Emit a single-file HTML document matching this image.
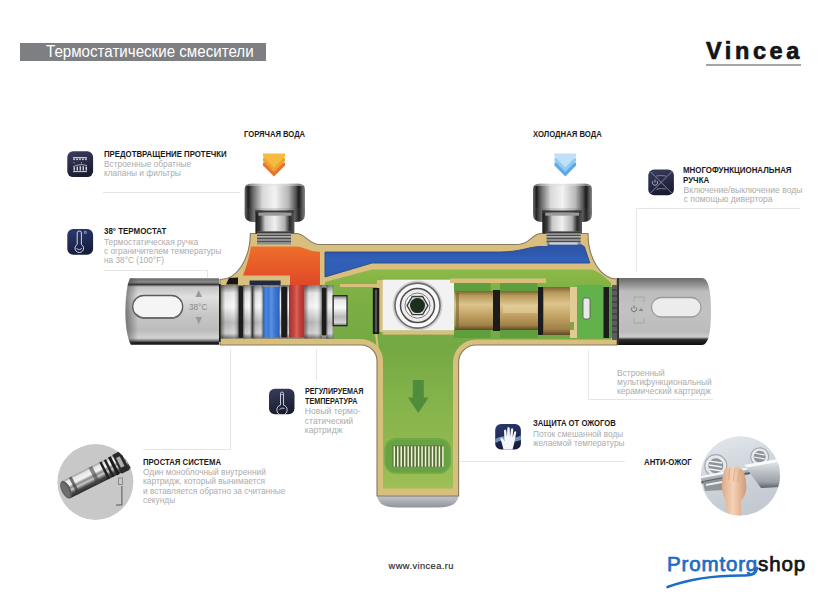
<!DOCTYPE html>
<html><head><meta charset="utf-8">
<style>
html,body{margin:0;padding:0;background:#fff;}
body{width:840px;height:605px;position:relative;overflow:hidden;font-family:"Liberation Sans",sans-serif;}
.a{position:absolute;white-space:nowrap;}
.t{position:absolute;white-space:nowrap;font-weight:bold;color:#1b1b1b;font-size:8.6px;line-height:9.4px;transform-origin:0 0;transform:scaleX(0.9);}
.s{position:absolute;white-space:nowrap;color:#acacac;font-size:8.6px;line-height:9.4px;transform-origin:0 0;transform:scaleX(0.97);}
.ln{position:absolute;background:#e6e6e6;}
.ic{position:absolute;width:26px;height:26px;border-radius:6px;background:linear-gradient(160deg,#3b4366,#1c2038);}
</style></head>
<body>
<div class="a" id="hbar" style="left:20px;top:43px;width:246px;height:18px;background:#7e7f83;"></div>
<div class="a" id="htxt" style="left:46px;top:41px;font-size:16px;line-height:22px;color:#fff;transform-origin:0 0;transform:scaleX(0.945);">Термостатические смесители</div>
<div class="a" id="vin" style="left:706px;top:36.5px;font-size:23.5px;line-height:28px;font-weight:bold;color:#141414;letter-spacing:3.6px;-webkit-text-stroke:0.7px #141414;">Vincea</div>
<div class="a" style="left:706px;top:64px;width:95px;height:2px;background:#a5a5a5;"></div>

<div class="t" id="hot" style="left:244px;top:129.6px;transform:scaleX(0.888)">ГОРЯЧАЯ ВОДА</div>
<div class="t" id="cold" style="left:532.5px;top:130px;transform:scaleX(0.899)">ХОЛОДНАЯ ВОДА</div>

<!-- A -->
<div class="t" id="tA" style="left:103.5px;top:150px;transform:scaleX(0.909)">ПРЕДОТВРАЩЕНИЕ ПРОТЕЧКИ</div>
<div class="s" id="sA" style="left:104px;top:160px;">Встроенные обратные<br>клапаны и фильтры</div>
<div class="ln" style="left:103px;top:192px;width:137px;height:1px;"></div>
<!-- B -->
<div class="t" id="tB" style="left:104px;top:227.4px;transform:scaleX(0.924)">38° ТЕРМОСТАТ</div>
<div class="s" id="sB" style="left:104px;top:237.6px;transform:scaleX(0.963)">Термостатическая ручка<br>с ограничителем температуры<br>на 38°C (100°F)</div>
<div class="ln" style="left:104px;top:270px;width:104px;height:1px;"></div>
<div class="ln" style="left:207px;top:270px;width:1px;height:8px;"></div>
<!-- C -->
<div class="t" id="tC" style="left:683.4px;top:166.4px;transform:scaleX(0.922)">МНОГОФУНКЦИОНАЛЬНАЯ<br>РУЧКА</div>
<div class="s" id="sC" style="left:683.6px;top:186px;transform:scaleX(1.0)">Включение/выключение воды<br>с помощью дивертора</div>
<div class="ln" style="left:636px;top:208px;width:164px;height:1px;"></div>
<div class="ln" style="left:636px;top:208px;width:1px;height:64px;"></div>
<!-- D -->
<div class="t" id="tD" style="left:304.5px;top:387.4px;transform:scaleX(0.836)">РЕГУЛИРУЕМАЯ<br>ТЕМПЕРАТУРА</div>
<div class="s" id="sD" style="left:304.8px;top:407.2px;transform:scaleX(1.0)">Новый термо-<br>статический<br>картридж</div>
<div class="ln" style="left:316px;top:349px;width:1px;height:31px;"></div>
<!-- E -->
<div class="t" id="tE" style="left:532.8px;top:419.4px;transform:scaleX(0.894)">ЗАЩИТА ОТ ОЖОГОВ</div>
<div class="s" id="sE" style="left:533px;top:429.6px;transform:scaleX(0.96)">Поток смешанной воды<br>желаемой температуры</div>
<div class="ln" style="left:460px;top:461px;width:165px;height:1px;"></div>
<!-- F -->
<div class="t" id="tF" style="left:644px;top:457.5px;transform:scaleX(0.91)">АНТИ-ОЖОГ</div>
<!-- G -->
<div class="t" id="tG" style="left:143px;top:457.6px;">ПРОСТАЯ СИСТЕМА</div>
<div class="s" id="sG" style="left:143px;top:468px;">Один моноблочный внутренний<br>картридж, который вынимается<br>и вставляется обратно за считанные<br>секунды</div>
<div class="ln" style="left:143px;top:449px;width:88px;height:1px;"></div>
<div class="ln" style="left:230px;top:349px;width:1px;height:100px;"></div>
<!-- H -->
<div class="s" id="sH" style="left:617px;top:368.6px;transform:scaleX(0.98)">Встроенный<br>мультифункциональный<br>керамический картридж</div>
<div class="ln" style="left:588px;top:350px;width:1px;height:49px;"></div>
<div class="ln" style="left:588px;top:399px;width:125px;height:1px;"></div>

<div class="a" id="www" style="left:388.5px;top:559.6px;font-size:9.3px;line-height:12px;color:#262626;letter-spacing:0.42px;-webkit-text-stroke:0.15px #262626;">www.vincea.ru</div>
<div class="a" id="pts" style="left:667px;top:551px;font-size:20.5px;line-height:26px;font-weight:normal;color:#1c6dc6;-webkit-text-stroke:0.75px #1c6dc6;letter-spacing:0.85px;">Promtorg<span style="color:#151515;-webkit-text-stroke:0.75px #151515;">shop</span></div>

<svg class="a" style="left:0;top:0" width="840" height="605" viewBox="0 0 840 605">
<defs>
 <linearGradient id="chv" x1="0" y1="0" x2="0" y2="1">
  <stop offset="0" stop-color="#6a6a6a"/><stop offset="0.06" stop-color="#8a8a8a"/><stop offset="0.095" stop-color="#3a3a3a"/><stop offset="0.13" stop-color="#c4c4c4"/>
  <stop offset="0.28" stop-color="#e0e0e0"/><stop offset="0.55" stop-color="#c6c6c6"/><stop offset="0.78" stop-color="#bcbcbc"/>
  <stop offset="0.9" stop-color="#d2d2d2"/><stop offset="0.94" stop-color="#777"/><stop offset="0.965" stop-color="#222"/><stop offset="1" stop-color="#151515"/>
 </linearGradient>
 <linearGradient id="lend" x1="0" y1="0" x2="1" y2="0">
  <stop offset="0" stop-color="#333" stop-opacity="0.55"/><stop offset="1" stop-color="#333" stop-opacity="0"/>
 </linearGradient>
 <linearGradient id="chv2" x1="0" y1="0" x2="0" y2="1">
  <stop offset="0" stop-color="#6a6a6a"/><stop offset="0.12" stop-color="#9a9a9a"/><stop offset="0.2" stop-color="#bdbdbd"/>
  <stop offset="0.5" stop-color="#c2c2c2"/><stop offset="0.8" stop-color="#bcbcbc"/>
  <stop offset="0.88" stop-color="#cdcdcd"/><stop offset="0.92" stop-color="#2a2a2a"/><stop offset="1" stop-color="#0e0e0e"/>
 </linearGradient>
 <linearGradient id="chn" x1="0" y1="0" x2="1" y2="0">
  <stop offset="0" stop-color="#6e6e6e"/><stop offset="0.06" stop-color="#1e1e1e"/><stop offset="0.14" stop-color="#6a6a6a"/>
  <stop offset="0.3" stop-color="#d9d9d9"/><stop offset="0.5" stop-color="#f3f3f3"/><stop offset="0.72" stop-color="#b8b8b8"/>
  <stop offset="0.84" stop-color="#5a5a5a"/><stop offset="0.9" stop-color="#1a1a1a"/><stop offset="1" stop-color="#8a8a8a"/>
 </linearGradient>
 <linearGradient id="chn2" x1="0" y1="0" x2="1" y2="0">
  <stop offset="0" stop-color="#1a1a1a"/><stop offset="0.12" stop-color="#3a3a3a"/><stop offset="0.25" stop-color="#c8c8c8"/>
  <stop offset="0.5" stop-color="#f0f0f0"/><stop offset="0.75" stop-color="#b0b0b0"/><stop offset="0.88" stop-color="#2a2a2a"/><stop offset="1" stop-color="#5a5a5a"/>
 </linearGradient>
 <linearGradient id="segsh" x1="0" y1="0" x2="1" y2="0">
  <stop offset="0" stop-color="#222" stop-opacity="0.55"/><stop offset="0.25" stop-color="#222" stop-opacity="0.05"/><stop offset="0.7" stop-color="#fff" stop-opacity="0.1"/><stop offset="1" stop-color="#222" stop-opacity="0.45"/>
 </linearGradient>
 <linearGradient id="bluer" x1="0" y1="0" x2="1" y2="0">
  <stop offset="0" stop-color="#2a5fb8"/><stop offset="0.2" stop-color="#4a88dc"/><stop offset="0.35" stop-color="#3a78d2"/><stop offset="0.5" stop-color="#5a94e0"/><stop offset="0.7" stop-color="#3c7ad4"/><stop offset="1" stop-color="#2a62bd"/>
 </linearGradient>
 <linearGradient id="redr" x1="0" y1="0" x2="1" y2="0">
  <stop offset="0" stop-color="#a8302a"/><stop offset="0.3" stop-color="#c8443a"/><stop offset="0.5" stop-color="#d4645a"/><stop offset="0.7" stop-color="#c4403a"/><stop offset="1" stop-color="#a83028"/>
 </linearGradient>
 <linearGradient id="chc" x1="0" y1="0" x2="0" y2="1">
  <stop offset="0" stop-color="#777"/><stop offset="0.15" stop-color="#e8e8e8"/><stop offset="0.4" stop-color="#fafafa"/>
  <stop offset="0.7" stop-color="#b9b9b9"/><stop offset="0.9" stop-color="#d5d5d5"/><stop offset="1" stop-color="#6a6a6a"/>
 </linearGradient>
 <linearGradient id="brass" x1="0" y1="0" x2="0" y2="1">
  <stop offset="0" stop-color="#7d6234"/><stop offset="0.12" stop-color="#b99a5c"/><stop offset="0.35" stop-color="#dcc48c"/>
  <stop offset="0.6" stop-color="#c4a466"/><stop offset="0.88" stop-color="#9f8148"/><stop offset="1" stop-color="#5e4822"/>
 </linearGradient>
 <linearGradient id="org" x1="0" y1="0" x2="0" y2="1">
  <stop offset="0" stop-color="#ef6f2b"/><stop offset="1" stop-color="#de4627"/>
 </linearGradient>
 <linearGradient id="grn" gradientUnits="userSpaceOnUse" x1="0" y1="269" x2="0" y2="489">
  <stop offset="0" stop-color="#8cba48"/><stop offset="0.1" stop-color="#7fb045"/><stop offset="0.35" stop-color="#74a843"/><stop offset="0.6" stop-color="#85b34b"/><stop offset="0.9" stop-color="#95bc52"/><stop offset="1" stop-color="#9ec057"/>
 </linearGradient>
 <linearGradient id="grs" x1="0" y1="0" x2="0" y2="1">
  <stop offset="0" stop-color="#6ea640"/><stop offset="0.35" stop-color="#86b44c"/><stop offset="0.8" stop-color="#92ba50"/><stop offset="1" stop-color="#9cbf56"/>
 </linearGradient>
 <linearGradient id="blu" gradientUnits="userSpaceOnUse" x1="0" y1="244" x2="0" y2="277">
  <stop offset="0" stop-color="#2d53a6"/><stop offset="0.3" stop-color="#2f58ae"/><stop offset="0.45" stop-color="#3260b8"/><stop offset="1" stop-color="#2f5cb4"/>
 </linearGradient>
 <linearGradient id="hot" x1="0" y1="0" x2="0" y2="1">
  <stop offset="0" stop-color="#f3b236"/><stop offset="1" stop-color="#e46a2a"/>
 </linearGradient>
 <linearGradient id="cld" x1="0" y1="0" x2="0" y2="1">
  <stop offset="0" stop-color="#b5dcf5"/><stop offset="1" stop-color="#4f9de0"/>
 </linearGradient>
</defs>

<!-- arrows -->
<g id="harrow"><polygon points="263.0,162.6 285.0,162.6 285.0,165.6 274.0,176.6 263.0,165.6" fill="#e6762b"/><polygon points="263.0,158.1 285.0,158.1 285.0,161.1 274.0,172.1 263.0,161.1" fill="#f0a332"/><polygon points="263.0,153.6 285.0,153.6 285.0,156.6 274.0,167.6 263.0,156.6" fill="#f4bb3c"/></g>
<g id="carrow"><polygon points="554.5,162.6 576.1,162.6 576.1,165.6 565.3,176.4 554.5,165.6" fill="#5ea8e4"/><polygon points="554.5,158.1 576.1,158.1 576.1,161.1 565.3,171.9 554.5,161.1" fill="#93c9f0"/><polygon points="554.5,153.6 576.1,153.6 576.1,156.6 565.3,167.4 554.5,156.6" fill="#bfe0f6"/></g>

<!-- stem bottom chrome cap -->
<defs><linearGradient id="capg" x1="0" y1="0" x2="0" y2="1"><stop offset="0" stop-color="#c9cdd2"/><stop offset="0.5" stop-color="#b8bcc2"/><stop offset="1" stop-color="#8f949a"/></linearGradient></defs>
<path d="M377 490 L458.6 490 L458.6 495 Q458 507.5 438 507.5 L397 507.5 Q377.6 507.5 377 495 Z" fill="url(#capg)"/>

<!-- body silhouette -->
<path id="body" d="M220 279.5 A30 46 0 0 0 250.3 233.5 L296 233.5 C306 233.5 308 244.5 320 244.5 L518 244.5 C530 244.5 532 233.5 541 233.5 L588 233.5 A29 45.5 0 0 0 617 279 L617 345 L476 345 A17.5 17.5 0 0 0 458.6 362.5 L458.6 496 L377 496 L377 361 A16 16 0 0 0 361 345 L220 345 Z" fill="#d8bf7e" stroke="#857a62" stroke-width="1.1"/>

<!-- green interior -->
<path d="M325 282 L372 269.5 L592 269.5 C600 272 606 278 611 283 L611 339.5 L476 339.5 A23 23 0 0 0 453 362.5 L453 488.6 L383 488.6 L383 361 A22 22 0 0 0 361 339 L325 339 Z" fill="url(#grn)"/>
<path d="M376 333 L378.5 356" stroke="#d8bf7e" stroke-width="2"/>
<!-- orange -->
<path d="M251 246.5 L296 246.5 C304 246.5 308 251.7 320 251.7 L320 287 L290 287 L290 275.5 L243 275.5 C247 265 249.5 255 251 246.5 Z" fill="url(#org)"/>
<!-- blue -->
<path d="M325 252 L500 252 C520 252 530 246.5 540 246.5 L548 246.5 L548 244.3 L580.5 244.3 L584.4 246.7 L589.8 263 L372 263 L325 277 Z" fill="url(#blu)" stroke="#28488f" stroke-width="0.9"/>

<!-- nuts -->
<g id="nutL"><path d="M244.6 189 Q244.6 183.7 251.6 183.7 L298 183.7 Q305 183.7 305 189 L305 214 Q305 222 296 222 L253.6 222 Q244.6 222 244.6 214 Z" fill="url(#chn)"/><path d="M244.6 208 L305 208 L305 214 Q305 222 296 222 L253.6 222 Q244.6 222 244.6 214 Z" fill="#5a5a5a" opacity="0.18"/><rect x="246.6" y="184" width="56.400000000000006" height="2" fill="#e0e0e0" opacity="0.5"/><rect x="255.4" y="210.5" width="38.99999999999997" height="23" fill="url(#chn2)"/><rect x="255.4" y="210.5" width="38.99999999999997" height="2.2" fill="#3a3a3a"/><rect x="258.4" y="212.7" width="32.99999999999997" height="3" fill="#9a9a9a"/><rect x="257" y="231.5" width="34" height="13" fill="#8e8e8e"/><rect x="257" y="231.5" width="34" height="1.6" fill="#3a3a3a"/><rect x="257" y="235" width="34" height="1" fill="#4e4e4e"/><rect x="257" y="238" width="34" height="1" fill="#4e4e4e"/><rect x="257" y="241" width="34" height="1" fill="#4e4e4e"/><rect x="257" y="236.2" width="34" height="0.8" fill="#c8c8c8" opacity="0.7"/></g>
<g id="nutR"><path d="M533 189 Q533 183.7 540 183.7 L585 183.7 Q592 183.7 592 189 L592 214 Q592 222 583 222 L542 222 Q533 222 533 214 Z" fill="url(#chn)"/><path d="M533 208 L592 208 L592 214 Q592 222 583 222 L542 222 Q533 222 533 214 Z" fill="#5a5a5a" opacity="0.18"/><rect x="535" y="184" width="55" height="2" fill="#e0e0e0" opacity="0.5"/><rect x="542.3" y="210.5" width="39.700000000000045" height="23" fill="url(#chn2)"/><rect x="542.3" y="210.5" width="39.700000000000045" height="2.2" fill="#3a3a3a"/><rect x="545.3" y="212.7" width="33.700000000000045" height="3" fill="#9a9a9a"/><rect x="546.6" y="231.5" width="34.0" height="13" fill="#8e8e8e"/><rect x="546.6" y="231.5" width="34.0" height="1.6" fill="#3a3a3a"/><rect x="546.6" y="235" width="34.0" height="1" fill="#4e4e4e"/><rect x="546.6" y="238" width="34.0" height="1" fill="#4e4e4e"/><rect x="546.6" y="241" width="34.0" height="1" fill="#4e4e4e"/><rect x="546.6" y="236.2" width="34.0" height="0.8" fill="#c8c8c8" opacity="0.7"/><rect x="549.6" y="242.5" width="28.0" height="2" fill="#c9d6ef"/></g>

<!-- left cartridge -->
<rect x="249.6" y="280.5" width="31" height="5.5" fill="#1f2a44"/>
<polygon points="229,278 238,277.5 238,284.5 226,284.5" fill="#161616"/>
<rect x="220.7" y="285" width="112.5" height="53.6" fill="url(#chc)"/>
<rect x="220.7" y="285" width="17.7" height="53.6" fill="url(#segsh)"/><rect x="243.1" y="285" width="8.4" height="53.6" fill="url(#segsh)"/><rect x="253.3" y="285" width="9.5" height="53.6" fill="url(#segsh)"/><rect x="279.5" y="285" width="1.7" height="53.6" fill="url(#segsh)"/><rect x="287.2" y="285" width="1.8" height="53.6" fill="url(#segsh)"/><rect x="304.5" y="285" width="17.2" height="53.6" fill="url(#segsh)"/><rect x="326.5" y="285" width="6.7" height="53.6" fill="url(#segsh)"/>
<rect x="215.4" y="284" width="5.3" height="57.8" fill="#1a1a1a"/>
<rect x="238.4" y="286" width="4.7" height="52" rx="1.5" fill="#1c1c1c"/>
<rect x="251.5" y="286" width="1.8" height="52" fill="#3a3a3a"/>
<rect x="262.8" y="287" width="16.7" height="50.5" fill="url(#bluer)"/>
<rect x="281.2" y="286.5" width="6" height="51" rx="1.5" fill="#1c1c1c"/>
<rect x="289" y="285" width="15.5" height="52.5" fill="url(#redr)"/>
<rect x="321.7" y="287.5" width="4.8" height="48" rx="1.5" fill="#1c1c1c"/>
<rect x="333.2" y="295.7" width="13.8" height="30" fill="url(#chc)" stroke="#222" stroke-width="1.2"/>
<rect x="340" y="284" width="37" height="3" fill="#d8bf7e"/>

<!-- valve block -->
<rect x="377" y="280" width="6" height="52" fill="#d8bf7e"/>
<rect x="372.8" y="288" width="6.5" height="46" fill="#1c1c1c"/>
<rect x="375" y="290" width="2" height="42" fill="#555"/>
<rect x="382.7" y="279.7" width="71.8" height="50.9" fill="#f2f2f2"/>
<rect x="382.7" y="330.6" width="71.8" height="4" fill="#d8bf7e"/>
<circle cx="417.5" cy="305.6" r="25" fill="#cfcfcf"/>
<circle cx="417.5" cy="305.6" r="22.5" fill="#f8f8f8" stroke="#6a6a6a" stroke-width="1.6"/>
<circle cx="417.5" cy="305.6" r="17" fill="#ececec" stroke="#4a4a4a" stroke-width="1.5"/>
<circle cx="417.5" cy="305.6" r="12.5" fill="#fbfbfb" stroke="#777" stroke-width="1"/>
<polygon points="428,305.6 422.7,314.7 412.3,314.7 407,305.6 412.3,296.5 422.7,296.5" fill="#dadada" stroke="#3a3a3a" stroke-width="1.3"/>
<circle cx="417.5" cy="305.6" r="7.5" fill="#1c2e1f"/>

<!-- right cartridge -->
<rect x="450" y="278.5" width="96" height="4.5" fill="#d8bf7e"/>
<rect x="454" y="283" width="36.6" height="8" fill="#5e9e3c"/>
<rect x="500" y="283" width="37.5" height="8" fill="#5e9e3c"/>
<rect x="454" y="330" width="36.6" height="8" fill="#5e9e3c"/>
<rect x="500" y="330" width="37.5" height="8" fill="#5e9e3c"/>
<rect x="454.5" y="291" width="38.5" height="39" fill="url(#brass)"/>
<rect x="456" y="293" width="3" height="35" fill="#6e5628" opacity="0.5"/>
<rect x="493" y="290" width="7" height="41" fill="#1c1c1c"/>
<rect x="500" y="291" width="38" height="39" fill="url(#brass)"/>
<rect x="503" y="305" width="34" height="8" fill="#e6d39e" opacity="0.6"/>
<rect x="538" y="287" width="5.5" height="48" fill="#1c1c1c"/>
<rect x="543.5" y="287" width="27" height="48" fill="url(#brass)"/>
<path d="M570 287 L578 287 L578 338 L570 338 L570 330 L574 330 L574 322 L570 322 Z" fill="#e2cb95"/>
<rect x="577" y="285" width="26.5" height="53" fill="#62b24c"/>
<rect x="583" y="298" width="7" height="21" rx="2" fill="#e8e8e8" stroke="#555" stroke-width="0.8"/>
<rect x="603.5" y="287" width="5.5" height="51" fill="#1c1c1c"/>
<rect x="609" y="287" width="3" height="51" fill="#4e9a44"/>
<rect x="612" y="285" width="5" height="55" fill="#5c5c5c"/>
<g stroke="#2a2a2a" stroke-width="0.8"><line x1="612" y1="290" x2="617" y2="290"/><line x1="612" y1="296" x2="617" y2="296"/><line x1="612" y1="302" x2="617" y2="302"/><line x1="612" y1="308" x2="617" y2="308"/><line x1="612" y1="314" x2="617" y2="314"/><line x1="612" y1="320" x2="617" y2="320"/><line x1="612" y1="326" x2="617" y2="326"/><line x1="612" y1="332" x2="617" y2="332"/></g>

<!-- handles -->
<path id="hL" d="M219 278.2 L219 344.8 L131 344.8 Q125.2 335 125.2 311.5 Q125.2 288 130 278.2 Z" fill="url(#chv)"/>
<path d="M219 278.2 L219 344.5 L136 344.5 Q124 344.5 124 311.3 Q124 278.2 136 278.2 Z" fill="none"/>
<path d="M138 278.2 L130 278.2 Q125.5 290 125.5 311.3 Q125.5 333 130.5 344.5 L138 344.5 Z" fill="url(#lend)"/>
<rect x="132.7" y="295.5" width="50" height="22.5" rx="11.2" fill="#f5f5f5" stroke="#5a5a5a" stroke-width="1.3"/>
<path d="M136 314 Q140 318 145 318 L171 318 Q180 318 182 310" stroke="#6a6a6a" stroke-width="1.4" fill="none"/>
<text x="189" y="310" font-family="Liberation Sans" font-size="8.2" fill="#8a8a8a">38°C</text>
<polygon points="198.7,290 195.5,297 202,297" fill="#9a9a9a"/>
<polygon points="198.7,324.5 195.5,317 202,317" fill="#9a9a9a"/>

<path id="hR" d="M617 278 L702 278 Q711 278 711 311.5 Q711 345 702 345 L617 345 Z" fill="url(#chv2)"/>
<rect x="617" y="278" width="2" height="67" fill="#333"/>
<rect x="651.5" y="297.5" width="49.5" height="19.5" rx="9.7" fill="#ececec" stroke="#9a9a9a" stroke-width="1.3"/>
<path d="M632 307.5 A2.6 2.6 0 1 0 636 307.5" stroke="#666" stroke-width="0.9" fill="none"/><line x1="634" y1="305.5" x2="634" y2="308.5" stroke="#666" stroke-width="0.9"/>
<path d="M634 302 L634 297 L644 297 L644 302 M634 318 L634 323 L644 323 L644 318" stroke="#999" stroke-width="0.6" fill="none"/>
<polygon points="641,308 638.5,311 643.5,311" fill="#888"/>

<!-- stem arrow + filter -->
<polygon points="412.8,380 423.8,380 423.8,397.5 428.5,397.5 418.3,413 408,397.5 412.8,397.5" fill="#4f8c3c"/>
<rect x="384.3" y="438" width="66.7" height="35.8" rx="12" fill="#6fa846"/>
<rect x="386" y="440" width="63" height="32" rx="10" fill="#68a242"/>
<rect x="392.5" y="445.5" width="51" height="21.5" fill="#56703a"/>
<g stroke="#f1f6d6" stroke-width="1.5"><line x1="394.30" y1="446.2" x2="394.30" y2="466.7"/><line x1="397.77" y1="446.2" x2="397.77" y2="466.7"/><line x1="401.24" y1="446.2" x2="401.24" y2="466.7"/><line x1="404.71" y1="446.2" x2="404.71" y2="466.7"/><line x1="408.18" y1="446.2" x2="408.18" y2="466.7"/><line x1="411.65" y1="446.2" x2="411.65" y2="466.7"/><line x1="415.12" y1="446.2" x2="415.12" y2="466.7"/><line x1="418.59" y1="446.2" x2="418.59" y2="466.7"/><line x1="422.06" y1="446.2" x2="422.06" y2="466.7"/><line x1="425.53" y1="446.2" x2="425.53" y2="466.7"/><line x1="429.00" y1="446.2" x2="429.00" y2="466.7"/><line x1="432.47" y1="446.2" x2="432.47" y2="466.7"/><line x1="435.94" y1="446.2" x2="435.94" y2="466.7"/><line x1="439.41" y1="446.2" x2="439.41" y2="466.7"/><line x1="442.88" y1="446.2" x2="442.88" y2="466.7"/></g>

<!-- icons -->
<defs>
 <linearGradient id="icg" x1="0" y1="0" x2="0.3" y2="1">
  <stop offset="0" stop-color="#393e5e"/><stop offset="1" stop-color="#1a1d31"/>
 </linearGradient>
 <linearGradient id="icb" x1="0" y1="0" x2="0.3" y2="1">
  <stop offset="0" stop-color="#2b3a72"/><stop offset="1" stop-color="#171d3c"/>
 </linearGradient>
 <clipPath id="cpR"><circle cx="740.4" cy="475.8" r="39.6"/></clipPath>
 <clipPath id="cpL"><circle cx="95.4" cy="482" r="38"/></clipPath>
 <linearGradient id="hand" x1="0" y1="0" x2="1" y2="0">
  <stop offset="0" stop-color="#dcab8a"/><stop offset="0.45" stop-color="#f6d2b6"/><stop offset="1" stop-color="#d09a78"/>
 </linearGradient>
</defs>
<g id="icA">
 <rect x="67.3" y="151.3" width="25.8" height="25.8" rx="5.8" fill="url(#icg)"/>
 <g fill="#e4e5ee"><rect x="73" y="157.2" width="14" height="1.1"/>
 <circle cx="74" cy="159.3" r="0.85"/><circle cx="77" cy="159.3" r="0.85"/><circle cx="80" cy="159.3" r="0.85"/><circle cx="83" cy="159.3" r="0.85"/><circle cx="86" cy="159.3" r="0.85"/>
 <circle cx="74" cy="162.8" r="0.5"/><circle cx="81.5" cy="162.8" r="0.5"/>
 <rect x="73" y="171.2" width="14" height="0.9"/>
 <rect x="73.6" y="167.2" width="1.3" height="3.4"/><rect x="76.6" y="166.6" width="1.3" height="4"/><rect x="79.6" y="166.2" width="1.3" height="4.4"/><rect x="82.6" y="166.2" width="1.3" height="4.4"/><rect x="85.6" y="166.6" width="1.3" height="4"/>
 </g>
 <path d="M73 166.8 Q80 163.2 87 165.6" stroke="#e4e5ee" stroke-width="0.7" fill="none"/>
</g>
<g id="icB">
 <rect x="67.3" y="229" width="25.8" height="25.8" rx="5.8" fill="url(#icb)"/>
 <path d="M77.2 244.5 L77.2 233 Q77.2 231 79.3 231 Q81.4 231 81.4 233 L81.4 244.5 A4.3 4.3 0 1 1 77.2 244.5 Z" fill="none" stroke="#e6e8f2" stroke-width="0.9"/>
 <path d="M76.5 248.5 Q79.3 251 82 248.5" stroke="#e6e8f2" stroke-width="0.8" fill="none"/>
 <circle cx="85.3" cy="232.4" r="1.1" fill="none" stroke="#e6e8f2" stroke-width="0.6"/>
</g>
<g id="icC">
 <rect x="648.3" y="169.6" width="25.6" height="25.6" rx="5.8" fill="url(#icg)"/>
 <path d="M650.5 171.8 L671.7 193 M671.7 171.8 L650.5 193" stroke="#9a9cc0" stroke-width="0.8"/>
 <path d="M653 181 A2.6 2.6 0 1 0 657 181" stroke="#c8cae0" stroke-width="0.8" fill="none"/><line x1="655" y1="179.5" x2="655" y2="182.5" stroke="#c8cae0" stroke-width="0.8"/>
 <path d="M656 176 Q661 175 666 176" stroke="#8a8cb0" stroke-width="0.8" fill="none"/>
 <path d="M657 190 L657 189 Q661 188 666 189" stroke="#8a8cb0" stroke-width="0.8" fill="none"/>
</g>
<g id="icD">
 <rect x="269" y="388.7" width="25.5" height="25.5" rx="5.8" fill="url(#icg)"/>
 <path d="M280.5 405 L280.5 393.5 Q280.5 392 282 392 Q283.5 392 283.5 393.5 L283.5 405 A5.2 5.2 0 1 1 280.5 405 Z" fill="none" stroke="#dcdde8" stroke-width="0.9"/>
 <path d="M279.5 409.5 Q282 407 284.5 408.5" stroke="#dcdde8" stroke-width="0.8" fill="none"/>
 <circle cx="282" cy="394.5" r="0.7" fill="#dcdde8"/>
</g>
<g id="icE">
 <rect x="495.2" y="424.1" width="25.7" height="25.4" rx="5.8" fill="url(#icb)"/>
 <path d="M495.2 439 Q502 435 508 437 Q514 439 520.9 435.5 L520.9 440 Q514 443 508 441 Q502 439 495.2 443 Z" fill="#7fa8cc" opacity="0.85"/>
 <path d="M503.5 449.5 L501.5 442 Q500 439 501 437.5 Q502 437 503.5 439.5 L504.5 441 L504 431 Q504 429.5 505.2 429.5 Q506.2 429.5 506.3 431 L507 437 L507.3 428.5 Q507.4 427 508.6 427 Q509.8 427 509.8 428.5 L510 437 L511 429.5 Q511.2 428.2 512.3 428.3 Q513.3 428.5 513.2 430 L512.6 437.5 L514.3 432 Q514.7 431 515.6 431.3 Q516.4 431.7 516.1 433 L514.5 442 Q513.5 446 512.5 449.5 Z" fill="#f4f6fa"/>
</g>

<!-- left circle -->
<circle cx="95.4" cy="482" r="38" fill="#c8c8c8"/>
<g clip-path="url(#cpL)">
 <g transform="translate(66 489.8) rotate(-26.6)">
  <defs><linearGradient id="cart" x1="0" y1="0" x2="0" y2="1">
   <stop offset="0" stop-color="#9a9a9a"/><stop offset="0.12" stop-color="#e6e6e6"/><stop offset="0.35" stop-color="#f4f4f4"/>
   <stop offset="0.5" stop-color="#8a8a8a"/><stop offset="0.62" stop-color="#c8c8c8"/><stop offset="0.8" stop-color="#4a4a4a"/><stop offset="1" stop-color="#2a2a2a"/>
  </linearGradient></defs>
  <rect x="0" y="-9.5" width="70" height="19" fill="url(#cart)"/>
  <rect x="8" y="-9.5" width="3" height="19" fill="#3a3a3a" opacity="0.7"/>
  <rect x="30" y="-9.5" width="4" height="19" fill="#444" opacity="0.6"/>
  <rect x="42" y="-9.5" width="2.5" height="19" fill="#222"/>
  <rect x="47" y="-9.5" width="2.5" height="19" fill="#222"/>
  <rect x="52" y="-10" width="3" height="20" fill="#1a1a1a"/>
  <rect x="57" y="-10.5" width="9" height="21" fill="#2a2a2a"/>
  <rect x="59" y="-6" width="4" height="11" fill="#d0d0d0" opacity="0.8"/>
  <ellipse cx="0" cy="0" rx="4.5" ry="9.5" fill="#5a5a5a"/>
  <ellipse cx="-0.5" cy="0" rx="3" ry="8" fill="#6e6e6e"/>
 </g>
 <rect x="118.5" y="478" width="4" height="6.5" fill="none" stroke="#7a7a7a" stroke-width="0.8"/>
 <path d="M121.9 486 L121.9 505 L116 505" stroke="#555" stroke-width="1" fill="none"/>
</g>

<!-- right circle -->
<defs>
 <linearGradient id="rbg" x1="0" y1="0" x2="0.3" y2="1">
  <stop offset="0" stop-color="#e4e9ed"/><stop offset="0.5" stop-color="#cfd6dc"/><stop offset="1" stop-color="#c3cad1"/>
 </linearGradient>
 <linearGradient id="spout" x1="0" y1="0" x2="0" y2="1">
  <stop offset="0" stop-color="#eef1f3"/><stop offset="0.4" stop-color="#c2c7cc"/><stop offset="0.8" stop-color="#9aa0a6"/><stop offset="1" stop-color="#5a6068"/>
 </linearGradient>
</defs>
<circle cx="740.4" cy="475.8" r="39.6" fill="url(#rbg)"/>
<g clip-path="url(#cpR)">
 <circle cx="715.8" cy="465.7" r="11" fill="#e6eaee" stroke="#a5abb1" stroke-width="1.2"/>
 <circle cx="715.8" cy="465.7" r="7.5" fill="#8d939a"/>
 <path d="M709 461 L722 463 M709 465 L722 467 M709 469 L722 471" stroke="#f0f2f4" stroke-width="1.3"/>
 <circle cx="759.7" cy="456.8" r="9" fill="#e6eaee" stroke="#a5abb1" stroke-width="1.2"/>
 <circle cx="759.7" cy="456.8" r="6" fill="#8d939a"/>
 <path d="M754 453 L765 455 M754 457 L765 459" stroke="#f0f2f4" stroke-width="1.2"/>
 <path d="M700 476 L781 461 L781 468 L700 484 Z" fill="#aab0b6"/>
 <path d="M700 476 L781 461 L781 463.5 L700 478.5 Z" fill="#f4f6f8"/>
 <path d="M700 481.5 L781 466 L781 468 L700 484 Z" fill="#5a6068"/>
 <path d="M744 465 L781 458.5 L781 487 L761 488 Z" fill="url(#spout)"/>
 <path d="M744 465 L781 458.5 L781 461.5 L747 467.5 Z" fill="#f8f9fa"/>
 <path d="M703 482 L724 478 L724 490 L705 491 Z" fill="#8e949a"/>
 <path d="M706 484 L722 481 L722 483 L706 486 Z" fill="#eceef0"/>
 <path d="M727 517 L725.5 501 Q721.5 493 722 483 Q722.5 473 725 469 Q726.8 466.5 729 467.5 Q731.5 465.5 734 467 Q737 465.8 739.5 468.2 Q742.5 468.5 744 472 Q746.5 479 746.5 488 Q745.5 496 741 501 L741 517 Z" fill="url(#hand)"/>
 <path d="M729 480 Q728.5 473 730 468.5 M733.5 481 Q733.5 474 735 468.5 M738 482 Q738.5 475 740 470" stroke="#d29c7c" stroke-width="0.7" fill="none"/>
</g>

<!-- promtorg swoosh -->
<path d="M667.5 587 Q700 575 745 575.5 Q756 575.5 757 568" stroke="#1c6dc6" stroke-width="2.6" fill="none" stroke-linecap="round"/>
</svg>
</body></html>
